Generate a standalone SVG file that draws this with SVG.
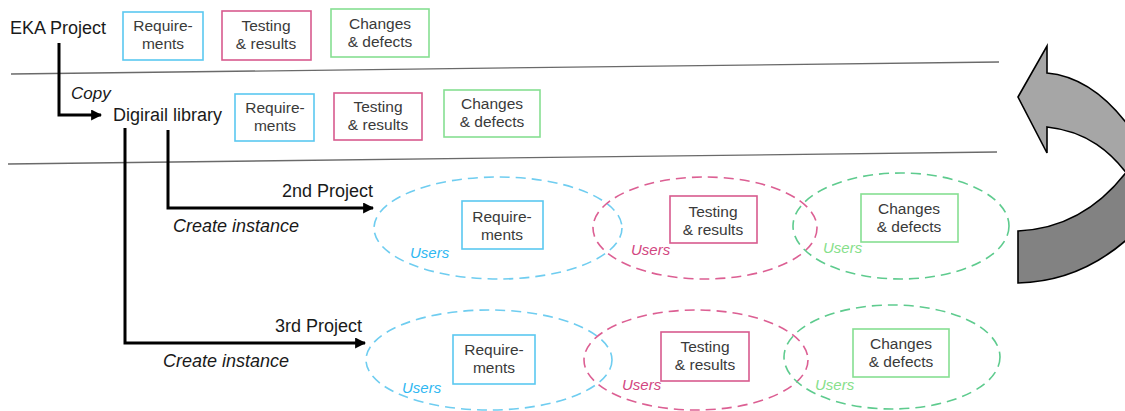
<svg xmlns="http://www.w3.org/2000/svg" width="1125" height="411" viewBox="0 0 1125 411">
  <defs>
    <style>
      .lbl { font-family: "Liberation Sans", Arial, sans-serif; font-size: 18px; fill: #1a1a1a; }
      .ital { font-family: "Liberation Sans", Arial, sans-serif; font-style: italic; fill: #1a1a1a; }
      .btxt { font-family: "Liberation Sans", Arial, sans-serif; font-size: 15.5px; fill: #3a3a3a; text-anchor: middle; }
      .users { font-family: "Liberation Sans", Arial, sans-serif; font-style: italic; font-size: 15px; }
      .box { fill: #ffffff; stroke-width: 1.6; }
      .req { stroke: #5bc8f0; }
      .tst { stroke: #d85a8e; }
      .chg { stroke: #86df92; }
      .ell { fill: none; stroke-width: 1.6; stroke-dasharray: 10 6; }
      .sep { stroke: #6a6a6a; stroke-width: 1.3; fill: none; }
      .flow { stroke: #000; stroke-width: 3; fill: none; }
    </style>
    <marker id="head" viewBox="0 0 10 10" refX="9" refY="5" markerWidth="11" markerHeight="11" markerUnits="userSpaceOnUse" orient="auto">
      <path d="M0,0 L10,5 L0,10 Z" fill="#000"/>
    </marker>
  </defs>

  <rect width="1125" height="411" fill="#ffffff"/>

  <!-- separators between the three tiers -->
  <line class="sep" x1="11" y1="74" x2="999" y2="62"/>
  <line class="sep" x1="8" y1="164" x2="997" y2="152"/>

  <!-- connectors -->
  <g id="connectors">
    <path class="flow" d="M59,43 V115 H101" marker-end="url(#head)"/>
    <path class="flow" d="M168,130 V208 H373" marker-end="url(#head)"/>
    <path class="flow" d="M125,128 V343 H365" marker-end="url(#head)"/>
  </g>

  <!-- connector labels -->
  <text class="ital" x="71" y="99" font-size="17">Copy</text>
  <text class="lbl" x="373" y="197" text-anchor="end">2nd Project</text>
  <text class="ital" x="173" y="232" font-size="18">Create instance</text>
  <text class="lbl" x="362" y="332" text-anchor="end">3rd Project</text>
  <text class="ital" x="163" y="367" font-size="18">Create instance</text>

  <!-- top tier: EKA project -->
  <g id="eka">
    <text class="lbl" x="10" y="34">EKA Project</text>
    <g id="eka-req">
      <rect class="box req" x="123" y="12" width="80" height="48"/>
      <text class="btxt" x="163" y="31">Require-</text>
      <text class="btxt" x="163" y="49">ments</text>
    </g>
    <g id="eka-tst">
      <rect class="box tst" x="222" y="11" width="89" height="49"/>
      <text class="btxt" x="266" y="31">Testing</text>
      <text class="btxt" x="266" y="49">&amp; results</text>
    </g>
    <g id="eka-chg">
      <rect class="box chg" x="331" y="9" width="98" height="48"/>
      <text class="btxt" x="380" y="29">Changes</text>
      <text class="btxt" x="380" y="47">&amp; defects</text>
    </g>
  </g>

  <!-- middle tier: Digirail library -->
  <g id="library">
    <text class="lbl" x="113" y="121">Digirail library</text>
    <g id="lib-req">
      <rect class="box req" x="235" y="94" width="79" height="47"/>
      <text class="btxt" x="275" y="113">Require-</text>
      <text class="btxt" x="275" y="131">ments</text>
    </g>
    <g id="lib-tst">
      <rect class="box tst" x="334" y="93" width="88" height="47"/>
      <text class="btxt" x="378" y="112">Testing</text>
      <text class="btxt" x="378" y="130">&amp; results</text>
    </g>
    <g id="lib-chg">
      <rect class="box chg" x="444" y="90" width="96" height="47"/>
      <text class="btxt" x="492" y="109">Changes</text>
      <text class="btxt" x="492" y="127">&amp; defects</text>
    </g>
  </g>

  <!-- 2nd project instance -->
  <g id="project2">
    <g id="p2-req">
      <ellipse class="ell" cx="498" cy="228" rx="124" ry="51" stroke="#6fcdf0"/>
      <rect class="box req" x="462" y="201" width="81" height="48"/>
      <text class="btxt" x="502" y="222">Require-</text>
      <text class="btxt" x="502" y="240">ments</text>
      <text class="users" x="410" y="258" fill="#2fb8f2">Users</text>
    </g>
    <g id="p2-tst">
      <ellipse class="ell" cx="705" cy="228" rx="112" ry="51" stroke="#dc5f93"/>
      <rect class="box tst" x="670" y="196" width="87" height="47"/>
      <text class="btxt" x="713" y="217">Testing</text>
      <text class="btxt" x="713" y="235">&amp; results</text>
      <text class="users" x="631" y="255" fill="#d2467f">Users</text>
    </g>
    <g id="p2-chg">
      <ellipse class="ell" cx="901" cy="226" rx="108" ry="53" stroke="#5ecb8e"/>
      <rect class="box chg" x="861" y="194" width="97" height="48"/>
      <text class="btxt" x="909" y="214">Changes</text>
      <text class="btxt" x="909" y="232">&amp; defects</text>
      <text class="users" x="823" y="253" fill="#86e08a">Users</text>
    </g>
  </g>

  <!-- 3rd project instance -->
  <g id="project3">
    <g id="p3-req">
      <ellipse class="ell" cx="489" cy="360" rx="123" ry="50" stroke="#6fcdf0"/>
      <rect class="box req" x="453" y="335" width="82" height="49"/>
      <text class="btxt" x="494" y="355">Require-</text>
      <text class="btxt" x="494" y="373">ments</text>
      <text class="users" x="402" y="393" fill="#2fb8f2">Users</text>
    </g>
    <g id="p3-tst">
      <ellipse class="ell" cx="696" cy="360" rx="112" ry="50" stroke="#dc5f93"/>
      <rect class="box tst" x="661" y="332" width="88" height="49"/>
      <text class="btxt" x="705" y="352">Testing</text>
      <text class="btxt" x="705" y="370">&amp; results</text>
      <text class="users" x="622" y="390" fill="#d2467f">Users</text>
    </g>
    <g id="p3-chg">
      <ellipse class="ell" cx="892" cy="357" rx="108" ry="52" stroke="#5ecb8e"/>
      <rect class="box chg" x="853" y="329" width="96" height="48"/>
      <text class="btxt" x="901" y="349">Changes</text>
      <text class="btxt" x="901" y="367">&amp; defects</text>
      <text class="users" x="815" y="390" fill="#86e08a">Users</text>
    </g>
  </g>

  <!-- curved feedback arrow, running off the right edge -->
  <g id="feedback-arrow" stroke="#000" stroke-width="1.6" stroke-linejoin="miter">
    <path d="M1018,97 L1047,46 L1047,73 C1080,76 1110,98 1135,135 L1135,185 C1112,150 1085,131 1047,127 L1047,153 Z" fill="#a6a6a6"/>
    <path d="M1018,231 C1065,229 1105,205 1135,160 L1135,232 C1100,266 1060,282 1018,283 Z" fill="#828282"/>
  </g>
</svg>
